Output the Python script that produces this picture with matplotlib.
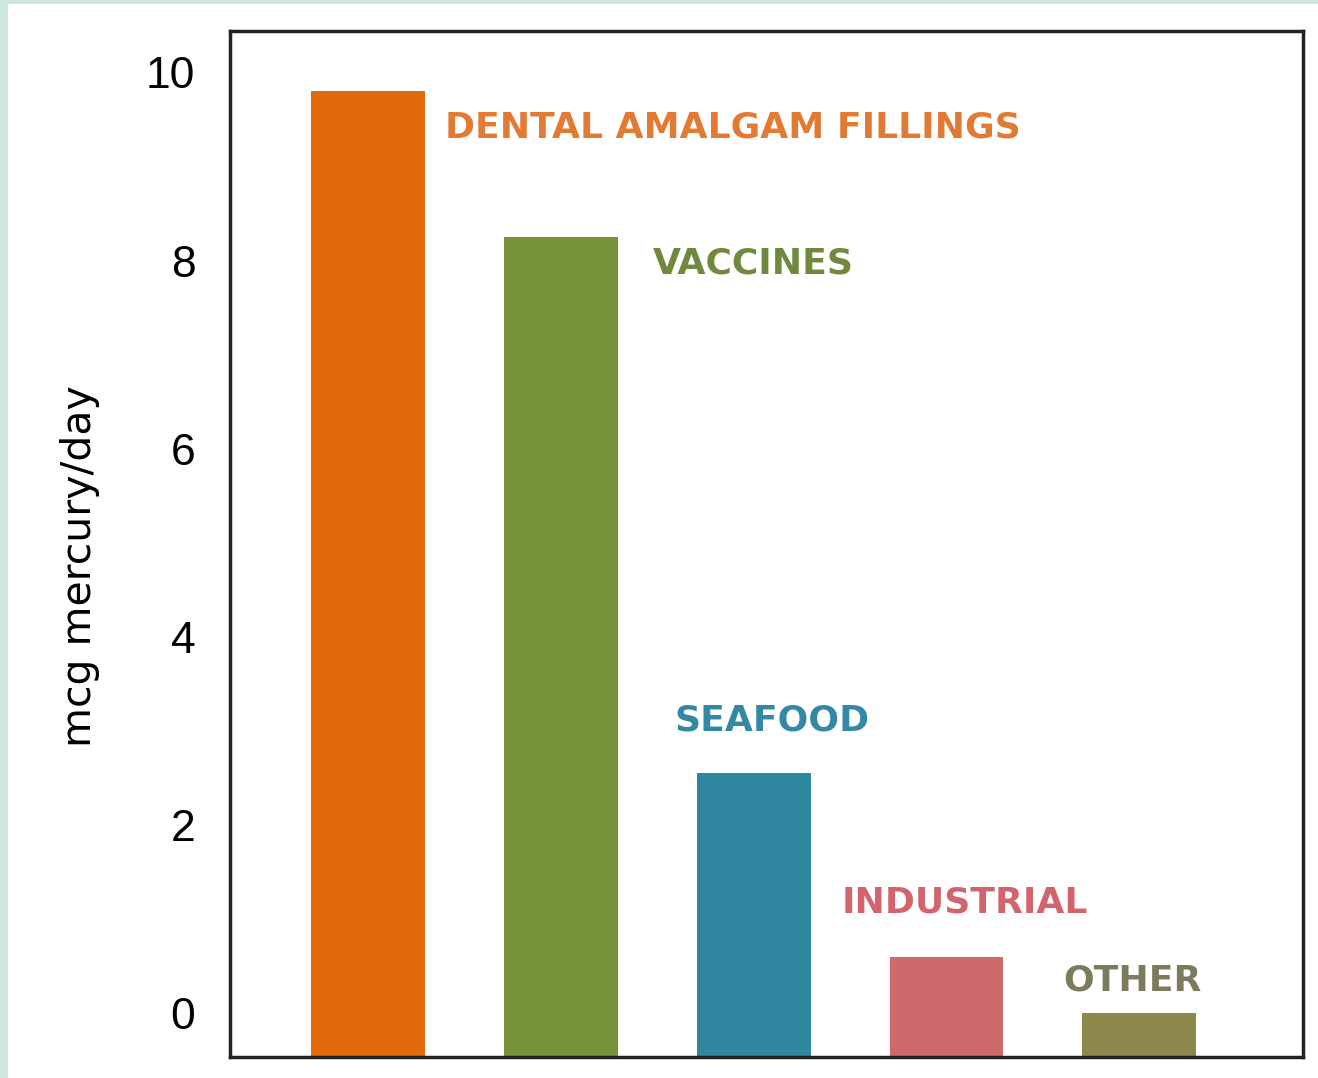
import matplotlib
matplotlib.use("Agg")
import matplotlib.pyplot as plt
from matplotlib.patches import Rectangle

# Daily mercury intake by source
sources = ["DENTAL AMALGAM FILLINGS", "VACCINES", "SEAFOOD", "INDUSTRIAL", "OTHER"]
mercury = [9.8, 8.25, 2.55, 0.6, 0.0]
bar_colors = ["#e26a0b", "#76923b", "#2f86a0", "#d0696b", "#8d884c"]
label_colors = ["#e27a34", "#71893f", "#3388a6", "#d2646e", "#7d7b5e"]
yticks = [0, 2, 4, 6, 8, 10]

plt.rcParams["font.family"] = ["Liberation Sans", "DejaVu Sans"]

W, H = 1318, 1078
fig = plt.figure(figsize=(W / 100, H / 100), dpi=100)
fig.patch.set_facecolor("#cde7df")
fig.patches.append(Rectangle((8 / W, 0), 1 - 8 / W, 1 - 4 / H, transform=fig.transFigure,
                             facecolor="white", edgecolor="none", zorder=-10))

ax = fig.add_axes([230 / W, (H - 1057) / H, (1303 - 230) / W, (1057 - 31) / H])
ymin, ymax = -0.468, 10.44
x = list(range(len(sources)))
ax.bar(x, [v - ymin for v in mercury], bottom=ymin, width=0.59, color=bar_colors, zorder=2)

# Category labels placed beside / above their bars
label_pos = [(0.398, 9.415), (1.478, 7.97), (1.591, 3.11), (2.458, 1.17), (3.605, 0.35)]
for (lx, ly), name, col in zip(label_pos, sources, label_colors):
    ax.text(lx, ly, name, color=col, fontsize=26, fontweight="bold", va="center",
            ha="left", family="DejaVu Sans")

ax.set_xlim(-0.717, 4.85)
ax.set_ylim(ymin, ymax)
ax.set_xticks([])
ax.set_yticks(yticks)
ax.set_yticklabels([str(t) for t in yticks], fontsize=32)
ax.tick_params(axis="y", length=0, pad=25)
for s in ax.spines.values():
    s.set_linewidth(2.5)
    s.set_color("#222222")
ax.set_ylabel("mcg mercury/day", fontsize=29.5, family="DejaVu Sans")
ax.yaxis.set_label_coords(-0.121, 0.4786)

fig.savefig("out.png", dpi=100)
